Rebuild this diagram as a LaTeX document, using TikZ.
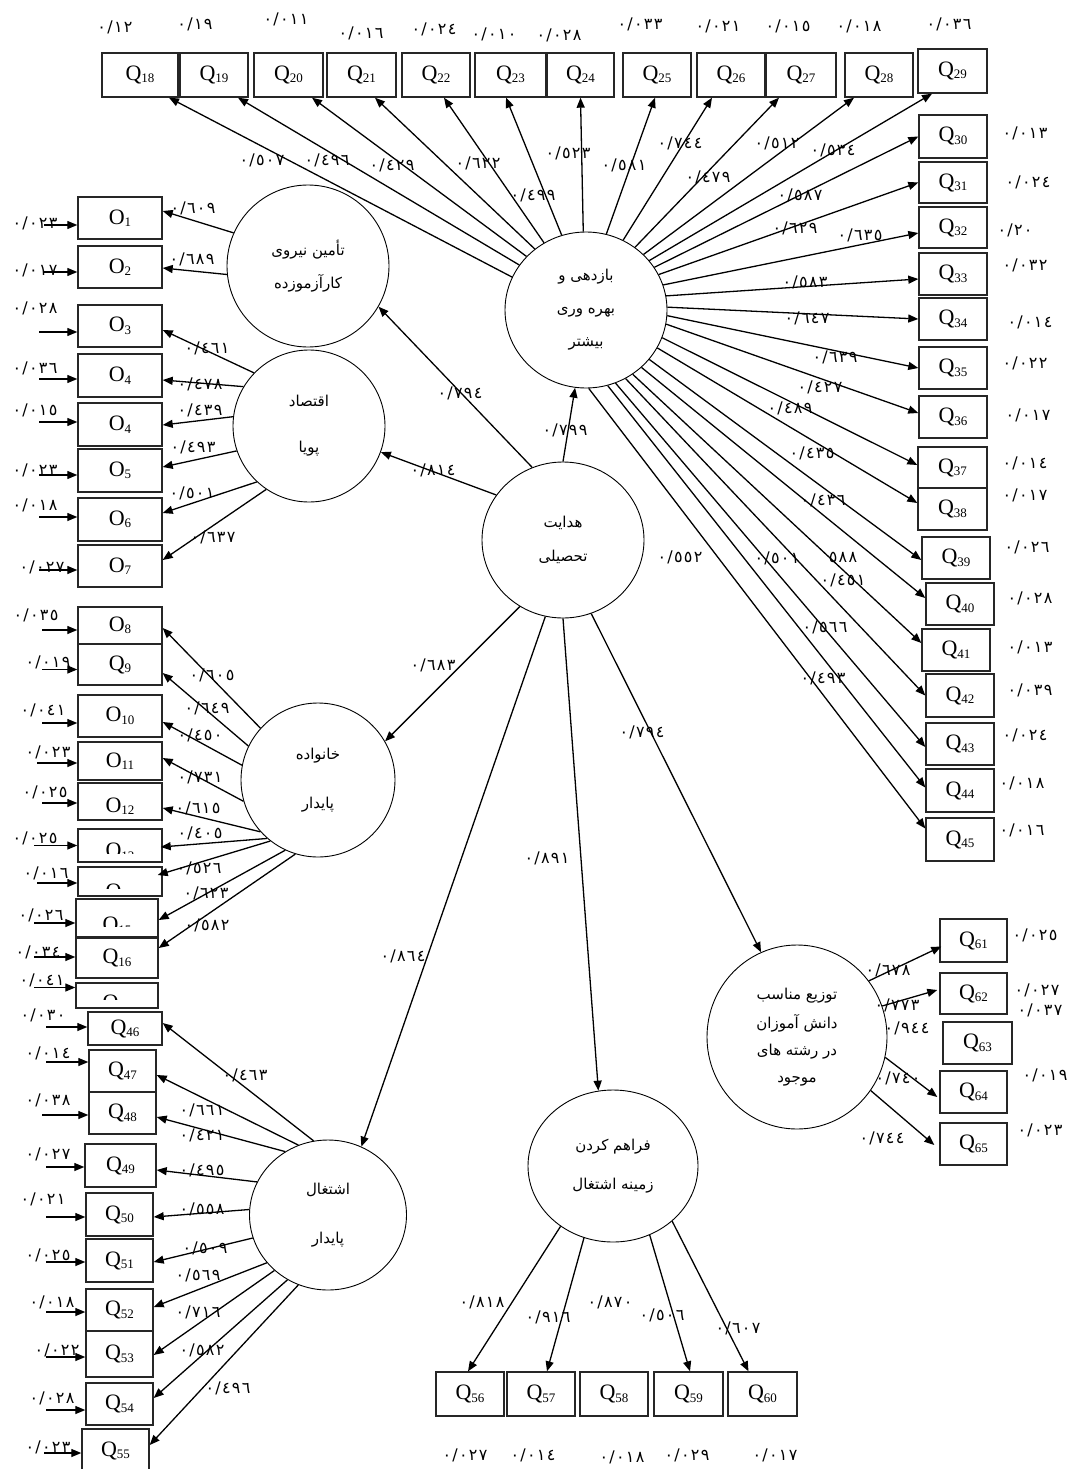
\documentclass[tikz,border=0pt]{standalone}
\usepackage{fontspec}
\setmainfont{Liberation Serif}
\newfontfamily\arfont[Script=Arabic]{DejaVu Sans}
\newfontfamily\numfam[LetterSpace=8]{DejaVu Sans}
\usetikzlibrary{shapes.geometric,arrows.meta,calc}
\TeXXeTstate=1
\newcommand\qfont{\fontsize{22}{22}\selectfont}
\newcommand\qlab[1]{Q\raisebox{-2.5pt}{\fontsize{13}{13}\selectfont #1}}
\newcommand\olab[1]{O\raisebox{-2.5pt}{\fontsize{13}{13}\selectfont #1}}
\newcounter{lbc}
\newcommand\lb[3]{\stepcounter{lbc}\node[lbl] (lb\arabic{lbc}) at (#1,#2) {#3};}
\newcommand\err[3]{\draw[arr] ($(#1.west)+(-#2,#3)$) -- ($(#1.west)+(0,#3)$);}
\newcommand\rl[1]{\beginR #1\endR}
\begin{document}
\begin{tikzpicture}[x=1pt,y=-1pt,
  qbox/.style={draw=black!85, line width=1.4pt, fill=white, inner sep=0pt, font=\qfont},
  lat/.style={draw, ellipse, line width=0.9pt, inner sep=0pt, align=center, font={\arfont\fontsize{15}{17}\selectfont}},
  arr/.style={-{Triangle[length=10pt,width=8pt]}, line width=1.3pt},
  lbl/.style={font={\numfam\fontsize{16}{16}\selectfont}, inner sep=0pt},
]
\useasboundingbox (0,0) rectangle (1073,1469);
\fill[white] (0,0) rectangle (1073,1469);

% ---------- top row ----------
\node[qbox,minimum width=76pt,minimum height=44pt] (Q18) at (140,75) {\qlab{18}};
\node[qbox,minimum width=68pt,minimum height=44pt] (Q19) at (214,75) {\qlab{19}};
\node[qbox,minimum width=69pt,minimum height=44pt] (Q20) at (288.5,75) {\qlab{20}};
\node[qbox,minimum width=69pt,minimum height=44pt] (Q21) at (361.5,75) {\qlab{21}};
\node[qbox,minimum width=68pt,minimum height=44pt] (Q22) at (436,75) {\qlab{22}};
\node[qbox,minimum width=71pt,minimum height=44pt] (Q23) at (510.5,75) {\qlab{23}};
\node[qbox,minimum width=67pt,minimum height=44pt] (Q24) at (580.5,75) {\qlab{24}};
\node[qbox,minimum width=68pt,minimum height=44pt] (Q25) at (657,75) {\qlab{25}};
\node[qbox,minimum width=68pt,minimum height=44pt] (Q26) at (731,75) {\qlab{26}};
\node[qbox,minimum width=70pt,minimum height=44pt] (Q27) at (801,75) {\qlab{27}};
\node[qbox,minimum width=68pt,minimum height=44pt] (Q28) at (879,75) {\qlab{28}};
\node[qbox,minimum width=69pt,minimum height=44pt] (Q29) at (952.5,71) {\qlab{29}};

% ---------- right column ----------
\node[qbox,minimum width=68pt,minimum height=43pt] (Q30) at (953,136.5) {\qlab{30}};
\node[qbox,minimum width=68pt,minimum height=41pt] (Q31) at (953,182.5) {\qlab{31}};
\node[qbox,minimum width=68pt,minimum height=41pt] (Q32) at (953,227.5) {\qlab{32}};
\node[qbox,minimum width=68pt,minimum height=42pt] (Q33) at (953,274) {\qlab{33}};
\node[qbox,minimum width=68pt,minimum height=42pt] (Q34) at (953,319) {\qlab{34}};
\node[qbox,minimum width=68pt,minimum height=42pt] (Q35) at (953,368) {\qlab{35}};
\node[qbox,minimum width=68pt,minimum height=42pt] (Q36) at (953,417) {\qlab{36}};
\node[qbox,minimum width=69pt,minimum height=41pt] (Q37) at (952.5,467.5) {\qlab{37}};
\node[qbox,minimum width=69pt,minimum height=42pt] (Q38) at (952.5,509) {\qlab{38}};
\node[qbox,minimum width=68pt,minimum height=42pt] (Q39) at (956,558) {\qlab{39}};
\node[qbox,minimum width=68pt,minimum height=42pt] (Q40) at (960,604) {\qlab{40}};
\node[qbox,minimum width=68pt,minimum height=42pt] (Q41) at (956,650) {\qlab{41}};
\node[qbox,minimum width=68pt,minimum height=43pt] (Q42) at (960,695.5) {\qlab{42}};
\node[qbox,minimum width=68pt,minimum height=42pt] (Q43) at (960,744) {\qlab{43}};
\node[qbox,minimum width=68pt,minimum height=43pt] (Q44) at (960,790.5) {\qlab{44}};
\node[qbox,minimum width=68pt,minimum height=43pt] (Q45) at (960,839.5) {\qlab{45}};

% ---------- left column ----------
\node[qbox,minimum width=84pt,minimum height=42pt] (O1) at (120,218) {\olab{1}};
\node[qbox,minimum width=84pt,minimum height=42pt] (O2) at (120,267) {\olab{2}};
\node[qbox,minimum width=84pt,minimum height=42pt] (O3) at (120,326) {\olab{3}};
\node[qbox,minimum width=84pt,minimum height=43pt] (O4) at (120,375.5) {\olab{4}};
\node[qbox,minimum width=84pt,minimum height=43pt] (O4b) at (120,424.5) {\olab{4}};
\node[qbox,minimum width=84pt,minimum height=43pt] (O5) at (120,470.5) {\olab{5}};
\node[qbox,minimum width=84pt,minimum height=43pt] (O6) at (120,519.5) {\olab{6}};
\node[qbox,minimum width=84pt,minimum height=42pt] (O7) at (120,566) {\olab{7}};
\node[qbox,minimum width=84pt,minimum height=37pt] (O8) at (120,625.5) {\olab{8}};
\node[qbox,minimum width=84pt,minimum height=41pt] (Q9) at (120,664.5) {\qlab{9}};
\node[qbox,minimum width=84pt,minimum height=42pt] (O10) at (120,716) {\olab{10}};
\node[qbox,minimum width=84pt,minimum height=38pt] (O11) at (120,761) {\olab{11}};
\node[qbox,minimum width=84pt,minimum height=37pt] (O12) at (120,801.5) {};
\node[qbox,minimum width=84pt,minimum height=33pt] (O13) at (120,845.5) {};
\node[qbox,minimum width=84pt,minimum height=29pt] (Q14) at (120,881.5) {};
\node[qbox,minimum width=82pt,minimum height=38pt] (Q15) at (117,918) {};
\node[qbox,minimum width=82pt,minimum height=40pt] (Q16) at (117,958) {\qlab{16}};
\node[qbox,minimum width=82pt,minimum height=25pt] (Q17) at (117,995.5) {};
\node[qbox,minimum width=74pt,minimum height=33pt] (Q46) at (125,1028.5) {\qlab{46}};
\node[qbox,minimum width=67pt,minimum height=42pt] (Q47) at (122.5,1071) {\qlab{47}};
\node[qbox,minimum width=67pt,minimum height=42pt] (Q48) at (122.5,1113) {\qlab{48}};
\node[qbox,minimum width=71pt,minimum height=43pt] (Q49) at (120.5,1165.5) {\qlab{49}};
\node[qbox,minimum width=67pt,minimum height=43pt] (Q50) at (119.5,1214.5) {\qlab{50}};
\node[qbox,minimum width=67pt,minimum height=43pt] (Q51) at (119.5,1260.5) {\qlab{51}};
\node[qbox,minimum width=67pt,minimum height=42pt] (Q52) at (119.5,1310) {\qlab{52}};
\node[qbox,minimum width=67pt,minimum height=46pt] (Q53) at (119.5,1354) {\qlab{53}};
\node[qbox,minimum width=67pt,minimum height=42pt] (Q54) at (119.5,1404) {\qlab{54}};
\node[qbox,minimum width=67pt,minimum height=43pt] (Q55) at (115.5,1450.5) {\qlab{55}};

% clipped (partly hidden) labels
\begin{scope}\clip (80,784) rectangle (160,813); \node[font=\qfont,inner sep=0pt] (t12) at (120,806) {\olab{12}};\end{scope}
\begin{scope}\clip (80,831) rectangle (160,853); \node[font=\qfont,inner sep=0pt] (t13) at (120,852) {\olab{13}};\end{scope}
\begin{scope}\clip (80,869) rectangle (160,888); \node[font=\qfont,inner sep=0pt] (t14) at (120,892) {\olab{14}};\end{scope}
\begin{scope}\clip (78,901) rectangle (156,926); \node[font=\qfont,inner sep=0pt] (t15) at (117,926) {\olab{15}};\end{scope}
\begin{scope}\clip (78,985) rectangle (156,999); \node[font=\qfont,inner sep=0pt] (t17) at (117,1003) {\olab{17}};\end{scope}

% ---------- bottom boxes ----------
\node[qbox,minimum width=68pt,minimum height=44pt] (Q56) at (470,1394) {\qlab{56}};
\node[qbox,minimum width=68pt,minimum height=44pt] (Q57) at (541,1394) {\qlab{57}};
\node[qbox,minimum width=68pt,minimum height=44pt] (Q58) at (614,1394) {\qlab{58}};
\node[qbox,minimum width=69pt,minimum height=44pt] (Q59) at (688.5,1394) {\qlab{59}};
\node[qbox,minimum width=69pt,minimum height=44pt] (Q60) at (762.5,1394) {\qlab{60}};

\node[qbox,minimum width=67pt,minimum height=43pt] (Q61) at (973.5,940.5) {\qlab{61}};
\node[qbox,minimum width=67pt,minimum height=41pt] (Q62) at (973.5,993.5) {\qlab{62}};
\node[qbox,minimum width=69pt,minimum height=42pt] (Q63) at (977.5,1043) {\qlab{63}};
\node[qbox,minimum width=67pt,minimum height=42pt] (Q64) at (973.5,1092) {\qlab{64}};
\node[qbox,minimum width=67pt,minimum height=42pt] (Q65) at (973.5,1144) {\qlab{65}};

% ---------- latent circles ----------
\node[lat,minimum width=162pt,minimum height=162pt] (c1) at (308,266) {\rl{تأمین نیروی}\\[14pt]\rl{کارآزموزده}};
\node[lat,minimum width=152pt,minimum height=152pt] (c2) at (309,426) {\rl{اقتصاد}\\[29pt]\rl{پویا}};
\node[lat,minimum width=162pt,minimum height=156pt] (c3) at (586,310) {\rl{بازدهی و}\\[16pt]\rl{بهره وری}\\[16pt]\rl{بیشتر}};
\node[lat,minimum width=162pt,minimum height=156pt] (c4) at (563,540) {\rl{هدایت}\\[17pt]\rl{تحصیلی}};
\node[lat,minimum width=154pt,minimum height=154pt] (c5) at (318,780) {\rl{خانواده}\\[32pt]\rl{پایدار}};
\node[lat,minimum width=157pt,minimum height=150pt] (c6) at (328,1215) {\rl{اشتغال}\\[32pt]\rl{پایدار}};
\node[lat,minimum width=170pt,minimum height=152pt] (c7) at (613,1166) {\rl{فراهم کردن}\\[22pt]\rl{زمینه اشتغال}};
\node[lat,minimum width=180pt,minimum height=184pt] (c8) at (797,1037) {\rl{توزیع مناسب}\\[10pt]\rl{دانش آموزان}\\[10pt]\rl{در رشته های}\\[10pt]\rl{موجود}};

% ---------- structural paths ----------
\draw[arr] (c4.113) -- (c1.330);
\draw[arr] (c4.146) -- (c2.340);
\draw[arr] (c4.90) -- (c3.262);
\draw[arr] (c4.237) -- (c5.30);
\draw[arr] (c4.257) -- (c6.64);
\draw[arr] (c4.270) -- (c7.101);
\draw[arr] (c4.291) -- (c8.113);

% ---------- c3 loadings ----------
\draw[arr] (c3.156) -- ($(Q18.south)+(29,0)$);
\draw[arr] (c3.146) -- ($(Q19.south)+(24,0)$);
\draw[arr] (c3.138) -- ($(Q20.south)+(23.5,0)$);
\draw[arr] (c3.130) -- ($(Q21.south)+(13.5,0)$);
\draw[arr] (c3.122) -- ($(Q22.south)+(8,0)$);
\draw[arr] (c3.108) -- ($(Q23.south)+(-4.5,0)$);
\draw[arr] (c3.92) -- (Q24.south);
\draw[arr] (c3.75) -- ($(Q25.south)+(-2,0)$);
\draw[arr] (c3.62) -- ($(Q26.south)+(-19,0)$);
\draw[arr] (c3.52) -- ($(Q27.south)+(-22,0)$);
\draw[arr] (c3.44) -- ($(Q28.south)+(-25,0)$);
\draw[arr] (c3.38) -- ($(Q29.south)+(-20.5,0)$);
\draw[arr] (c3.32) -- (Q30.west);
\draw[arr] (c3.26) -- (Q31.west);
\draw[arr] (c3.18) -- ($(Q32.west)+(0,5.5)$);
\draw[arr] (c3.10) -- ($(Q33.west)+(0,5)$);
\draw[arr] (c3.2) -- (Q34.west);
\draw[arr] (c3.356) -- (Q35.west);
\draw[arr] (c3.350) -- ($(Q36.west)+(0,-4)$);
\draw[arr] (c3.340) -- ($(Q37.west)+(0,-2.5)$);
\draw[arr] (c3.332) -- ($(Q38.west)+(0,-6)$);
\draw[arr] (c3.322) -- ($(Q39.west)+(0,2)$);
\draw[arr] (c3.314) -- ($(Q40.west)+(0,-6)$);
\draw[arr] (c3.306) -- ($(Q41.west)+(0,-7)$);
\draw[arr] (c3.300) -- (Q42.west);
\draw[arr] (c3.292) -- ($(Q43.west)+(0,3)$);
\draw[arr] (c3.286) -- ($(Q44.west)+(0,-3)$);
\draw[arr] (c3.272) -- ($(Q45.west)+(0,-11)$);

% ---------- c1, c2 loadings ----------
\draw[arr] (c1.156) -- ($(O1.east)+(0,-7)$);
\draw[arr] (c1.186) -- ($(O2.east)+(0,1)$);
\draw[arr] (c2.136) -- ($(O3.east)+(0,4)$);
\draw[arr] (c2.149) -- ($(O4.east)+(0,4.5)$);
\draw[arr] (c2.173) -- ($(O4b.east)+(0,0.5)$);
\draw[arr] (c2.199) -- ($(O5.east)+(0,-3.5)$);
\draw[arr] (c2.227) -- ($(O6.east)+(0,-6.5)$);
\draw[arr] (c2.236) -- ($(O7.east)+(0,-6)$);

% ---------- c5 loadings ----------
\draw[arr] (c5.138) -- ($(O8.east)+(0,2.5)$);
\draw[arr] (c5.154) -- ($(Q9.east)+(0,8.5)$);
\draw[arr] (c5.169) -- ($(O10.east)+(0,6)$);
\draw[arr] (c5.196) -- ($(O11.east)+(0,-3)$);
\draw[arr] (c5.222) -- ($(O12.east)+(0,6.5)$);
\draw[arr] (c5.229) -- ($(O13.east)+(-2,1.5)$);
\draw[arr] (c5.232) -- ($(Q14.east)+(-5,-6.5)$);
\draw[arr] (c5.245) -- ($(Q15.east)+(0,2)$);
\draw[arr] (c5.253) -- ($(Q16.east)+(0,-10)$);

% ---------- c6 loadings ----------
\draw[arr] (c6.101) -- ($(Q46.east)+(0,-5.5)$);
\draw[arr] (c6.113) -- ($(Q47.east)+(0,4)$);
\draw[arr] (c6.124) -- ($(Q48.east)+(0,4)$);
\draw[arr] (c6.155) -- ($(Q49.east)+(0,4.5)$);
\draw[arr] (c6.176) -- ($(Q50.east)+(0,2.5)$);
\draw[arr] (c6.197) -- ($(Q51.east)+(0,1.5)$);
\draw[arr] (c6.218) -- ($(Q52.east)+(0,-3)$);
\draw[arr] (c6.226) -- ($(Q53.east)+(0,1)$);
\draw[arr] (c6.238) -- ($(Q54.east)+(0,-6)$);
\draw[arr] (c6.247) -- ($(Q55.east)+(0,-5.5)$);

% ---------- c7, c8 loadings ----------
\draw[arr] (c7.229) -- ($(Q56.north)+(-2,0)$);
\draw[arr] (c7.248) -- ($(Q57.north)+(6,0)$);
\draw[arr] (c7.298) -- ($(Q59.north)+(1.5,0)$);
\draw[arr] (c7.317) -- ($(Q60.north)+(-14,0)$);
\draw[arr] (c8.38) -- ($(Q61.west)+(2,6)$);
\draw[arr] (c8.20) -- ($(Q62.west)+(-2,-3.5)$);
\draw[arr] (c8.347) -- ($(Q64.west)+(-2,5)$);
\draw[arr] (c8.324) -- ($(Q65.west)+(-5,1)$);

% ---------- error arrows (left) ----------
\err{O1}{33}{7} \err{O2}{33}{5} \err{O3}{38}{6} \err{O4}{38}{3.5}
\err{O4b}{38}{-2.5} \err{O5}{38}{4.5} \err{O6}{38}{-2.5} \err{O7}{38}{4}
\err{O8}{35}{4.5} \err{Q9}{35}{5} \err{O10}{35}{7} \err{O11}{40}{2}
\err{O12}{35}{1.5} \err{O13}{43}{0} \err{Q14}{40}{1.5} \err{Q15}{41}{5}
\err{Q16}{41}{-1} \err{Q17}{41}{-8}
\err{Q46}{41}{-1.5} \err{Q47}{42}{-9} \err{Q48}{46}{2} \err{Q49}{38}{1.5}
\err{Q50}{39}{2.5} \err{Q51}{39}{1.5} \err{Q52}{39}{2} \err{Q53}{39}{3}
\err{Q54}{39}{6} \err{Q55}{37}{2.5}

% ---------- labels ----------
% top errors
\lb{115}{27}{٠/١٢} \lb{195}{24}{٠/١٩} \lb{286}{19}{٠/٠١١} \lb{361}{33}{٠/٠١٦}
\lb{434}{29}{٠/٠٢٤} \lb{494}{34}{٠/٠١٠} \lb{559}{35}{٠/٠٢٨} \lb{640}{24}{٠/٠٣٣}
\lb{718}{26}{٠/٠٢١} \lb{788}{26}{٠/٠١٥} \lb{859}{26}{٠/٠١٨} \lb{949}{24}{٠/٠٣٦}
% right errors
\lb{1025}{133}{٠/٠١٣} \lb{1028}{182}{٠/٠٢٤} \lb{1015}{230}{٠/٢٠} \lb{1025}{265}{٠/٠٣٢}
\lb{1030}{322}{٠/٠١٤} \lb{1025}{363}{٠/٠٢٢} \lb{1028}{415}{٠/٠١٧} \lb{1025}{463}{٠/٠١٤}
\lb{1025}{495}{٠/٠١٧} \lb{1027}{547}{٠/٠٢٦} \lb{1030}{598}{٠/٠٢٨} \lb{1030}{647}{٠/٠١٣}
\lb{1030}{690}{٠/٠٣٩} \lb{1025}{735}{٠/٠٢٤} \lb{1022}{783}{٠/٠١٨} \lb{1022}{830}{٠/٠١٦}
% c3 loadings
\lb{262}{160}{٠/٥٠٧} \lb{327}{160}{٠/٤٩٦} \lb{392}{165}{٠/٤٢٩} \lb{478}{163}{٠/٦٢٢}
\lb{533}{195}{٠/٤٩٩} \lb{568}{153}{٠/٥٢٣} \lb{624}{165}{٠/٥٨١} \lb{680}{143}{٠/٧٤٤}
\lb{708}{177}{٠/٤٧٩} \lb{777}{143}{٠/٥١٢} \lb{833}{150}{٠/٥٣٤} \lb{800}{195}{٠/٥٨٧}
\lb{795}{228}{٠/٦٢٩} \lb{860}{235}{٠/٦٣٥} \lb{805}{282}{٠/٥٨٣} \lb{807}{318}{٠/٦٤٧}
\lb{835}{357}{٠/٦٣٩} \lb{820}{387}{٠/٤٢٧} \lb{790}{408}{٠/٤٨٩} \lb{812}{453}{٠/٤٣٥}
\lb{823}{500}{٠/٤٣٦} \lb{843}{557}{٥٨٨} \lb{777}{558}{٠/٥٠١} \lb{843}{580}{٠/٤٥١}
\lb{825}{627}{٠/٥٦٦} \lb{823}{678}{٠/٤٩٣} \lb{680}{557}{٠/٥٥٢}
% c4 paths
\lb{460}{393}{٠/٧٩٤} \lb{433}{470}{٠/٨١٤} \lb{565}{430}{٠/٧٩٩} \lb{433}{665}{٠/٦٨٣}
\lb{403}{956}{٠/٨٦٤} \lb{547}{858}{٠/٨٩١} \lb{642}{732}{٠/٧٩٤}
% c1 c2
\lb{193}{208}{٠/٦٠٩} \lb{192}{259}{٠/٦٨٩} \lb{207}{348}{٠/٤٦١} \lb{200}{384}{٠/٤٧٨}
\lb{200}{410}{٠/٤٣٩} \lb{193}{447}{٠/٤٩٣} \lb{192}{493}{٠/٥٠١} \lb{213}{537}{٠/٦٣٧}
\lb{35}{223}{٠/٠٢٣} \lb{35}{270}{٠/٠١٧} \lb{35}{308}{٠/٠٢٨} \lb{35}{368}{٠/٠٣٦}
\lb{35}{410}{٠/٠١٥} \lb{35}{470}{٠/٠٢٣} \lb{35}{505}{٠/٠١٨} \lb{42}{567}{٠/٠٢٧}
% c5
\lb{212}{675}{٠/٦٠٥} \lb{207}{708}{٠/٦٤٩} \lb{200}{735}{٠/٤٥٠} \lb{200}{777}{٠/٧٣١}
\lb{198}{808}{٠/٦١٥} \lb{200}{833}{٠/٤٠٥} \lb{199}{868}{٠/٥٢٦} \lb{206}{893}{٠/٦٢٣}
\lb{207}{925}{٠/٥٨٢}
\lb{36}{615}{٠/٠٣٥} \lb{48}{662}{٠/٠١٩} \lb{43}{710}{٠/٠٤١} \lb{48}{752}{٠/٠٢٣}
\lb{45}{792}{٠/٠٢٥} \lb{35}{838}{٠/٠٢٥} \lb{46}{873}{٠/٠١٦} \lb{41}{915}{٠/٠٢٦}
\lb{38}{952}{٠/٠٣٤} \lb{42}{980}{٠/٠٤١}
% c6
\lb{245}{1075}{٠/٤٦٣} \lb{202}{1110}{٠/٦٦١} \lb{202}{1135}{٠/٤٢١} \lb{202}{1170}{٠/٤٩٥}
\lb{202}{1209}{٠/٥٥٨} \lb{205}{1248}{٠/٥٠٩} \lb{198}{1275}{٠/٥٦٩} \lb{198}{1312}{٠/٧١٦}
\lb{202}{1350}{٠/٥٨٢} \lb{228}{1388}{٠/٤٩٦}
\lb{43}{1015}{٠/٠٣٠} \lb{48}{1053}{٠/٠١٤} \lb{48}{1100}{٠/٠٣٨} \lb{48}{1154}{٠/٠٢٧}
\lb{43}{1199}{٠/٠٢١} \lb{48}{1255}{٠/٠٢٥} \lb{52}{1302}{٠/٠١٨} \lb{57}{1350}{٠/٠٢٢}
\lb{52}{1398}{٠/٠٢٨} \lb{48}{1447}{٠/٠٢٣}
% c7
\lb{482}{1302}{٠/٨١٨} \lb{548}{1317}{٠/٩١٦} \lb{610}{1302}{٠/٨٧٠} \lb{662}{1315}{٠/٥٠٦}
\lb{738}{1328}{٠/٦٠٧}
\lb{465}{1455}{٠/٠٢٧} \lb{533}{1455}{٠/٠١٤} \lb{622}{1457}{٠/٠١٨} \lb{687}{1455}{٠/٠٢٩}
\lb{775}{1455}{٠/٠١٧}
% c8
\lb{888}{970}{٠/٦٧٨} \lb{897}{1005}{٠/٧٧٣} \lb{907}{1028}{٠/٩٤٤} \lb{898}{1078}{٠/٧٤٠}
\lb{882}{1138}{٠/٧٤٤}
\lb{1035}{935}{٠/٠٢٥} \lb{1037}{990}{٠/٠٢٧} \lb{1040}{1010}{٠/٠٣٧} \lb{1045}{1075}{٠/٠١٩}
\lb{1040}{1130}{٠/٠٢٣}
\end{tikzpicture}
\end{document}
